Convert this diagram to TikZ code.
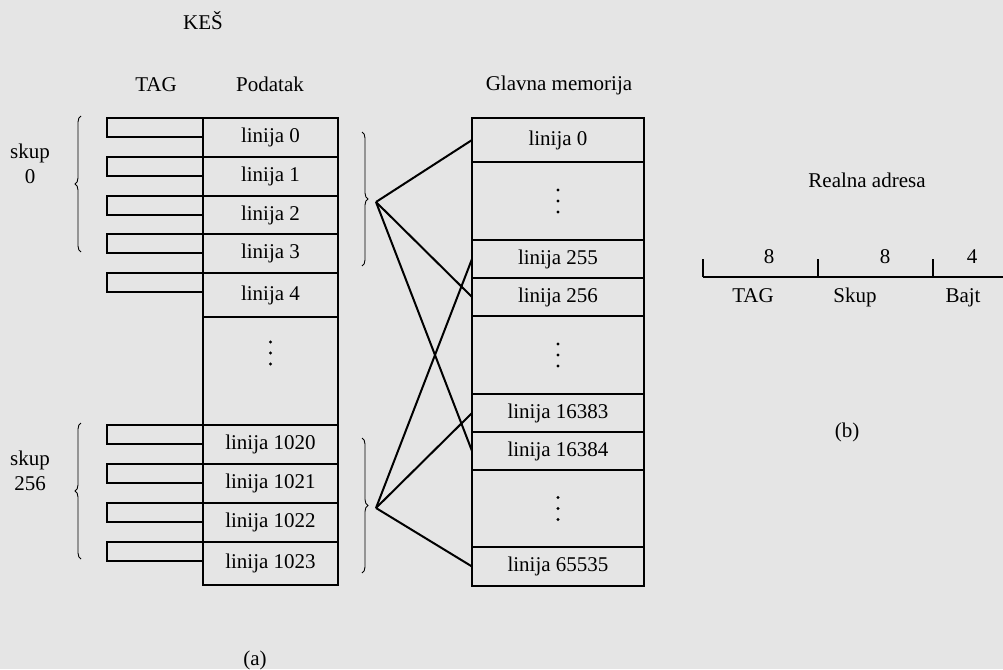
\documentclass[tikz,border=0pt]{standalone}
\usepackage{fontspec}
\setmainfont{Liberation Serif}
\usetikzlibrary{decorations.pathreplacing}
\definecolor{bg}{RGB}{229,229,229}
\begin{document}
\begin{tikzpicture}[x=1pt,y=-1pt,
  font=\fontsize{21}{25}\selectfont,
  cell/.style={draw, line width=2pt, inner sep=0pt, outer sep=0pt, minimum width=135pt},
  mcell/.style={draw, line width=2pt, inner sep=0pt, outer sep=0pt, minimum width=172pt},
  tagbox/.style={draw, line width=2pt, inner sep=0pt, outer sep=0pt, minimum width=96pt, minimum height=19pt, anchor=north west},
  lbl/.style={inner sep=0pt, anchor=base},
  conn/.style={line width=2pt},
  brc/.style={line width=0.9pt, decorate, decoration={brace, amplitude=6pt}},
  dot/.style={circle, fill=black, inner sep=0pt, minimum size=3.4pt}
]
\fill[bg] (0,0) rectangle (1003,669);
\useasboundingbox (0,0) rectangle (1003,669);

% headers
\node[lbl] (kes) at (203,30) {KEŠ};
\node[lbl] (htag) at (156,91) {TAG};
\node[lbl] (hpod) at (270,91) {Podatak};
\node[lbl] (hgm) at (559,90) {Glavna memorija};

% tag boxes
\node[tagbox] (t0) at (107,118) {};
\node[tagbox] (t1) at (107,157) {};
\node[tagbox] (t2) at (107,196) {};
\node[tagbox] (t3) at (107,234) {};
\node[tagbox] (t4) at (107,273) {};
\node[tagbox] (t1020) at (107,425) {};
\node[tagbox] (t1021) at (107,464) {};
\node[tagbox] (t1022) at (107,503) {};
\node[tagbox] (t1023) at (107,542) {};

% cache data column
\node[cell, minimum height=39pt] (c0) at (270.5,137.5) {linija 0};
\node[cell, minimum height=39pt] (c1) at (270.5,176.5) {linija 1};
\node[cell, minimum height=38pt] (c2) at (270.5,215) {linija 2};
\node[cell, minimum height=39pt] (c3) at (270.5,253.5) {linija 3};
\node[cell, minimum height=44pt] (c4) at (270.5,295) {linija 4};
\node[cell, minimum height=108pt] (cd) at (270.5,371) {};
\node[cell, minimum height=39pt] (c1020) at (270.5,444.5) {linija 1020};
\node[cell, minimum height=39pt] (c1021) at (270.5,483.5) {linija 1021};
\node[cell, minimum height=39pt] (c1022) at (270.5,522.5) {linija 1022};
\node[cell, minimum height=43pt] (c1023) at (270.5,563.5) {linija 1023};
\node[dot] (cd1) at (270.5,342) {};
\node[dot] (cd2) at (270.5,353) {};
\node[dot] (cd3) at (270.5,364) {};

% main memory
\node[mcell, minimum height=44pt] (m0) at (558,140) {linija 0};
\node[mcell, minimum height=78pt] (md1) at (558,201) {};
\node[mcell, minimum height=38pt] (m255) at (558,259) {linija 255};
\node[mcell, minimum height=38pt] (m256) at (558,297) {linija 256};
\node[mcell, minimum height=78pt] (md2) at (558,355) {};
\node[mcell, minimum height=38pt] (m16383) at (558,413) {linija 16383};
\node[mcell, minimum height=38pt] (m16384) at (558,451) {linija 16384};
\node[mcell, minimum height=77pt] (md3) at (558,508.5) {};
\node[mcell, minimum height=39pt] (m65535) at (558,566.5) {linija 65535};
\foreach \n in {md1,md2,md3}{
  \node[dot] at ([yshift=-11pt]\n.center) {};
  \node[dot] at (\n.center) {};
  \node[dot] at ([yshift=11pt]\n.center) {};
}

% braces
\draw[brc] (81,252) -- (81,116);
\draw[brc] (81,559) -- (81,423);
\draw[brc] (362,132) -- (362,266);
\draw[brc] (362,438) -- (362,573);

% set labels
\node[lbl, align=center, anchor=base] (s0) at (30,183) {skup\\0};
\node[lbl, align=center, anchor=base] (s256) at (30,490) {skup\\256};

% connectors
\coordinate (p1) at (376,202);
\coordinate (p2) at (376,508);
\draw[conn] (p1) -- (m0.west);
\draw[conn] (p1) -- (m256.west);
\draw[conn] (p1) -- (m16384.west);
\draw[conn] (p2) -- (m255.west);
\draw[conn] (p2) -- (m16383.west);
\draw[conn] (p2) -- (m65535.west);

% captions
\node (capa) at (255,660) {(a)};
\node (capb) at (847,432) {(b)};

% real address
\node[lbl] (ra) at (867,187) {Realna adresa};
\coordinate (a0) at (703,277);
\coordinate (a1) at (818,277);
\coordinate (a2) at (933,277);
\coordinate (a3) at (1003,277);
\draw[line width=2pt] (a0) -- (a3);
\draw[line width=2pt] (a0) -- ++(0,-18);
\draw[line width=2pt] (a1) -- ++(0,-18);
\draw[line width=2pt] (a2) -- ++(0,-18);
\node[lbl] (n1) at (769,263) {8};
\node[lbl] (n2) at (885,263) {8};
\node[lbl] (n3) at (972,263) {4};
\node[lbl] (f1) at (753,302) {TAG};
\node[lbl] (f2) at (855,302) {Skup};
\node[lbl] (f3) at (963,302) {Bajt};
\end{tikzpicture}
\end{document}
